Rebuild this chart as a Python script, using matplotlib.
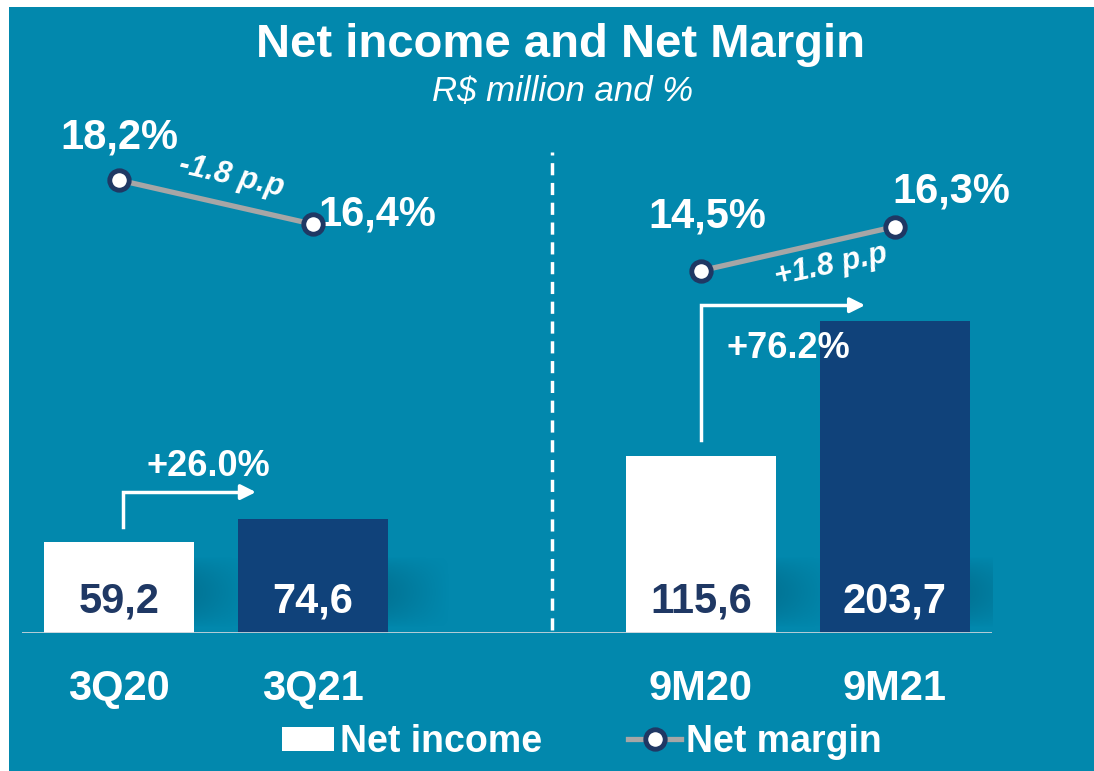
import numpy as np
import matplotlib.pyplot as plt
from matplotlib.patches import Rectangle, Patch
from matplotlib.lines import Line2D

# data
periods = ["3Q20", "3Q21", "9M20", "9M21"]
positions = [0, 1, 3, 4]
net_income = [59.2, 74.6, 115.6, 203.7]
income_labels = ["59,2", "74,6", "115,6", "203,7"]
net_margin = [18.2, 16.4, 14.5, 16.3]
margin_labels = ["18,2%", "16,4%", "14,5%", "16,3%"]
growth_labels = ["+26.0%", "+76.2%"]
pp_labels = ["-1.8 p.p", "+1.8 p.p"]

teal = "#0288AD"
navy_bar = "#10427A"
navy_txt = "#1F3864"
bar_colors = ["white", navy_bar, "white", navy_bar]
label_colors = [navy_txt, "white", navy_txt, "white"]

plt.rcParams["font.family"] = ["Liberation Sans", "DejaVu Sans"]

fig = plt.figure(figsize=(10.94, 7.71), dpi=100, facecolor="white")
fig.patches.append(Rectangle((9 / 1094, 0), 1 - 9 / 1094, 1 - 7 / 771,
                             transform=fig.transFigure, facecolor=teal,
                             edgecolor="none", zorder=-5))

ax = fig.add_axes([22 / 1094, 138 / 771, 970 / 1094, 533 / 771])
ax.set_facecolor("none")
ax.set_xlim(-0.5, 4.5)
ax.set_ylim(0, 348)

# soft shadows to the right of the bars
for p, v in zip(positions, net_income):
    h = min(v, 50)
    gx = np.linspace(1, 0, 60)
    gy = np.linspace(0, 1, 40)[:, None]
    alpha = 0.32 * gx[None, :] * np.sin(np.pi * gy) ** 0.8
    img = np.zeros((40, 60, 4))
    img[..., 0], img[..., 1], img[..., 2] = 0.0, 0.3, 0.4
    img[..., 3] = alpha
    ax.imshow(img, extent=(p + 0.38, p + 0.7, 3, h), aspect="auto",
              origin="lower", zorder=1)

ax.bar(positions, net_income, width=0.77, color=bar_colors, zorder=2)
ax.axhline(0, color="#C8D4DC", lw=2, zorder=3)

for p, lab, c in zip(positions, income_labels, label_colors):
    ax.text(p, 20.5, lab, ha="center", va="center", color=c,
            fontsize=30, fontweight="bold", zorder=4)

ax.set_xticks(positions)
ax.set_xticklabels(periods, color="white", fontsize=30, fontweight="bold")
ax.tick_params(axis="x", length=0, pad=26)
ax.set_yticks([])
for s in ax.spines.values():
    s.set_visible(False)

# divider
ax.plot([2.23, 2.23], [2, 314], color="white", lw=2.5,
        linestyle=(0, (3.5, 2.2)), zorder=3)

# growth arrows
arrows = [(0.02, 69, 92, 0.72), (3.0, 126, 214, 3.86)]
for (x0, y0, y1, x1) in arrows:
    ax.plot([x0, x0, x1 - 0.05], [y0, y1, y1], color="white", lw=2.5,
            solid_joinstyle="miter", zorder=4)
    ax.annotate("", xy=(x1, y1), xytext=(x1 - 0.1, y1),
                arrowprops=dict(arrowstyle="-|>,head_length=0.9,head_width=0.45",
                                color="white", lw=2.5), zorder=4)
ax.text(0.46, 109, growth_labels[0], ha="center", va="center", color="white",
        fontsize=26, fontweight="bold", zorder=4)
ax.text(3.45, 186, growth_labels[1], ha="center", va="center", color="white",
        fontsize=26, fontweight="bold", zorder=4)

# net margin line
ax2 = ax.twinx()
ax2.set_ylim(-0.29, 21.47)
ax2.axis("off")
for seg in [(0, 2), (2, 4)]:
    ax2.plot(positions[seg[0]:seg[1]], net_margin[seg[0]:seg[1]],
             color="#A6A6A6", lw=3.8, marker="o", markersize=14,
             markerfacecolor="white", markeredgecolor=navy_txt,
             markeredgewidth=3.5, zorder=5)

ax2.text(0.0, 19.95, margin_labels[0], ha="center", va="center",
         color="white", fontsize=30, fontweight="bold")
ax2.text(1.03, 16.8, margin_labels[1], ha="left", va="center",
         color="white", fontsize=30, fontweight="bold")
ax2.text(3.03, 16.7, margin_labels[2], ha="center", va="center",
         color="white", fontsize=30, fontweight="bold")
ax2.text(4.29, 17.72, margin_labels[3], ha="center", va="center",
         color="white", fontsize=30, fontweight="bold")
ax2.text(0.58, 18.36, pp_labels[0], ha="center", va="center", rotation=-13,
         rotation_mode="anchor", color="white", fontsize=22,
         fontweight="bold", fontstyle="italic")
ax2.text(3.67, 14.73, pp_labels[1], ha="center", va="center", rotation=12,
         rotation_mode="anchor", color="white", fontsize=22,
         fontweight="bold", fontstyle="italic")

# titles
fig.text(560 / 1094, 1 - 45 / 771, "Net income and Net Margin", ha="center",
         va="center", color="white", fontsize=34, fontweight="bold")
fig.text(563 / 1094, 1 - 91 / 771, "R$ million and %", ha="center",
         va="center", color="white", fontsize=25, fontstyle="italic")

# legend
handles = [Patch(facecolor="white", edgecolor="none"),
           Line2D([0], [0], color="#A6A6A6", lw=3.8, marker="o", markersize=14,
                  markerfacecolor="white", markeredgecolor=navy_txt,
                  markeredgewidth=3.5)]
leg = fig.legend(handles, ["Net income", "Net margin"], loc="center",
                 bbox_to_anchor=(582 / 1094, 1 - 742 / 771), ncol=2,
                 frameon=False, handlelength=1.4, handleheight=0.6,
                 handletextpad=0.15, columnspacing=2.3,
                 prop={"size": 27, "weight": "bold"})
for t in leg.get_texts():
    t.set_color("white")

fig.savefig("out.png", dpi=100, facecolor=fig.get_facecolor())
